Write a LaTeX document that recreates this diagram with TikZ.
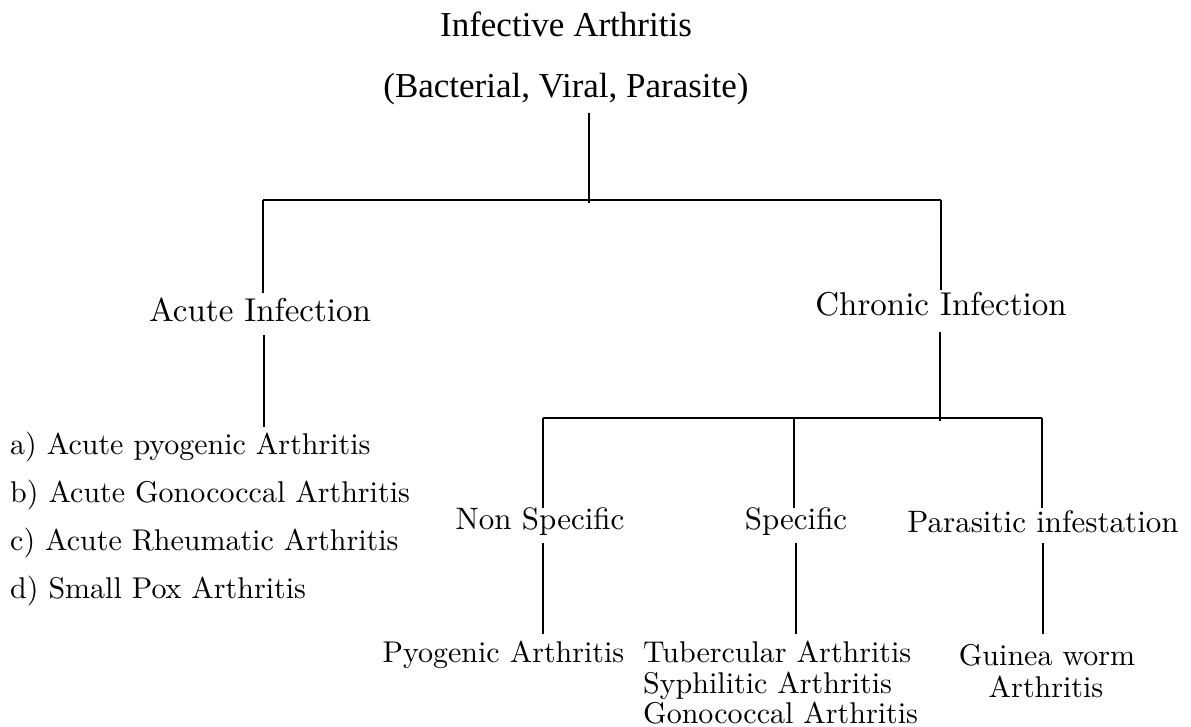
\documentclass[tikz,border=0pt]{standalone}
\usepackage{fontspec}
\newfontfamily\titlefont{Liberation Serif}
\newfontfamily\bodyfont{lmroman10-regular.otf}
\begin{document}
\begin{tikzpicture}[x=1pt,y=-1pt,
  lbl/.style={anchor=base,inner sep=0pt},
  ttl/.style={lbl,font=\titlefont\fontsize{35}{40}\selectfont},
  lvlone/.style={lbl,font=\bodyfont\fontsize{33}{38}\selectfont},
  lvltwo/.style={lbl,font=\bodyfont\fontsize{31}{35}\selectfont},
  leaf/.style={lbl,font=\bodyfont\fontsize{30}{33}\selectfont},
  conn/.style={line width=1.6pt}]
\path[use as bounding box] (0,0) rectangle (1191,727);

% texts
\node[ttl] (title) at (566,37) {Infective Arthritis};
\node[ttl] (causes) at (566,98) {(Bacterial, Viral, Parasite)};
\node[lvlone] (acute) at (260,321) {Acute Infection};
\node[lvlone] (chronic) at (941,316) {Chronic Infection};
\node[leaf,anchor=base west] (la) at (10,454) {a) Acute pyogenic Arthritis};
\node[leaf,anchor=base west] (lb) at (10,502) {b) Acute Gonococcal Arthritis};
\node[leaf,anchor=base west] (lc) at (10,550) {c) Acute Rheumatic Arthritis};
\node[leaf,anchor=base west] (ld) at (10,598) {d) Small Pox Arthritis};
\node[lvltwo] (nonspec) at (540,529) {Non Specific};
\node[lvltwo] (spec) at (796,529) {Specific};
\node[lvltwo] (paras) at (1043,532) {Parasitic infestation};
\node[leaf] (pyo) at (503.5,662) {Pyogenic Arthritis};
\node[leaf,anchor=base west] (tub) at (643,662) {Tubercular Arthritis};
\node[leaf,anchor=base west] (syph) at (643,693) {Syphilitic Arthritis};
\node[leaf,anchor=base west] (gono) at (643,723) {Gonococcal Arthritis};
\node[leaf] (guinea) at (1047,665) {Guinea worm};
\node[leaf] (guineab) at (1046,697) {Arthritis};

% junction coordinates
\coordinate (c0) at (589,113); \coordinate (c1) at (589,203);
\coordinate (hl) at (263,200); \coordinate (hr) at (941,200);
\coordinate (a0) at (263,293); \coordinate (a1) at (264,335); \coordinate (a2) at (264,427);
\coordinate (ch0) at (941,290); \coordinate (ch1) at (940,332); \coordinate (ch2) at (940,421);
\coordinate (ml) at (543,418); \coordinate (mr) at (1042,418);
\coordinate (mm) at (794,418);
\coordinate (n0) at (543,508); \coordinate (s0) at (794,508); \coordinate (p0) at (1042,508);
\coordinate (n1) at (543,543); \coordinate (n2) at (543,634);
\coordinate (s1) at (796,543); \coordinate (s2) at (796,634);
\coordinate (p1) at (1043,543); \coordinate (p2) at (1043,634);

% connectors
\draw[conn] (c0) -- (c1);
\draw[conn] (hl) -- (hr);
\draw[conn] (hl) -- (a0);
\draw[conn] (hr) -- (ch0);
\draw[conn] (a1) -- (a2);
\draw[conn] (ch1) -- (ch2);
\draw[conn] (ml) -- (mr);
\draw[conn] (ml) -- (n0);
\draw[conn] (mm) -- (s0);
\draw[conn] (mr) -- (p0);
\draw[conn] (n1) -- (n2);
\draw[conn] (s1) -- (s2);
\draw[conn] (p1) -- (p2);
\end{tikzpicture}
\end{document}
